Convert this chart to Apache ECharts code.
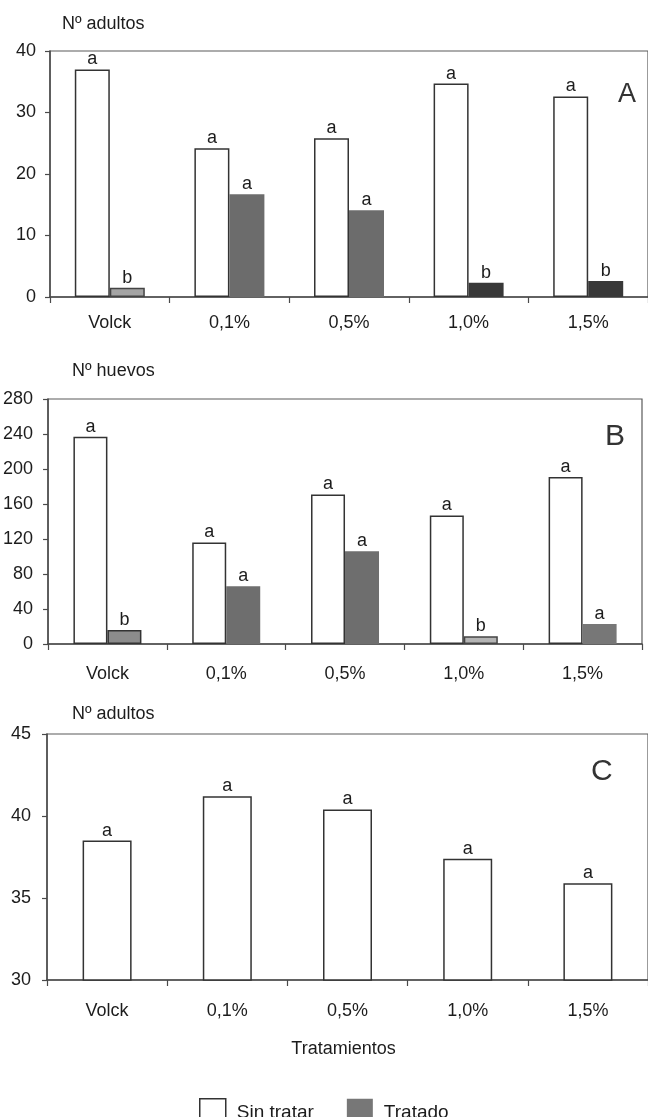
<!DOCTYPE html>
<html>
<head>
<meta charset="utf-8">
<script src="https://cdn.jsdelivr.net/npm/echarts@6/dist/echarts.min.js"></script>
<style>
html,body{margin:0;padding:0;background:#fff;}
#chart{width:648px;height:1117px;}
</style>
</head>
<body>
<div id="chart"></div>
<script>
// ---- data ----
var categories = ['Volck', '0,1%', '0,5%', '1,0%', '1,5%'];
var seriesNames = ['Sin tratar', 'Tratado'];

var adultosA_sin = [37, 24.2, 25.8, 34.7, 32.6];
var adultosA_trat = [1.5, 16.7, 14.1, 2.3, 2.6];
var lettersA_sin = ['a', 'a', 'a', 'a', 'a'];
var lettersA_trat = ['b', 'a', 'a', 'b', 'b'];

var huevosB_sin = [237, 116, 171, 147, 191];
var huevosB_trat = [16, 66, 106, 9, 23];
var lettersB_sin = ['a', 'a', 'a', 'a', 'a'];
var lettersB_trat = ['b', 'a', 'a', 'b', 'a'];

var adultosC_sin = [38.5, 41.2, 40.4, 37.4, 35.9];
var lettersC_sin = ['a', 'a', 'a', 'a', 'a'];

var ticksA = [0, 10, 20, 30, 40];
var ticksB = [0, 40, 80, 120, 160, 200, 240, 280];
var ticksC = [30, 35, 40, 45];

// ---- styles ----
var FONT = '"Liberation Sans", Arial, Helvetica, sans-serif';
var INK = '#1c1c1c';
var AXIS = '#4a4a4a';
var fillA = ['#a4a4a4', '#6c6c6c', '#6c6c6c', '#383838', '#383838'];
var edgeA = ['#444', null, null, null, null];
var fillB = ['#8c8c8c', '#6e6e6e', '#6e6e6e', '#b4b4b4', '#777777'];
var edgeB = ['#333', null, null, '#444', null];

var chart = echarts.init(document.getElementById('chart'), null, {renderer: 'canvas'});

function treatedData(vals, fills, edges) {
  return vals.map(function (v, i) {
    var st = {color: fills[i]};
    if (edges[i]) { st.borderColor = edges[i]; st.borderWidth = 1.5; }
    else { st.borderWidth = 0; }
    return {value: v, itemStyle: st};
  });
}
function letterLabel(letters) {
  return {
    show: true, position: 'top', distance: 1,
    fontFamily: FONT, fontSize: 18, color: INK,
    formatter: function (p) { return letters[p.dataIndex]; }
  };
}
function xAxisFor(idx, margin, extra) {
  var ax = {
    type: 'category', gridIndex: idx, data: categories,
    axisLine: {lineStyle: {color: AXIS, width: 1.5}},
    axisTick: {show: true, length: 6, lineStyle: {color: AXIS, width: 1.2}},
    axisLabel: {fontFamily: FONT, fontSize: 18, color: INK, margin: margin}
  };
  if (extra) for (var k in extra) ax[k] = extra[k];
  return ax;
}
function yAxisFor(idx, ticks, name, nameGap, namePad, margin) {
  return {
    type: 'value', gridIndex: idx,
    min: ticks[0], max: ticks[ticks.length - 1], interval: ticks[1] - ticks[0],
    name: name, nameLocation: 'end', nameGap: nameGap,
    nameTextStyle: {fontFamily: FONT, fontSize: 18, color: INK, align: 'left', padding: [0, 0, 0, namePad]},
    axisLine: {show: true, lineStyle: {color: AXIS, width: 1.5}},
    axisTick: {show: true, length: 5, lineStyle: {color: AXIS, width: 1.2}},
    axisLabel: {fontFamily: FONT, fontSize: 18, color: INK, margin: margin},
    splitLine: {show: false}
  };
}
var gridStyle = {show: true, borderColor: '#5a5a5a', borderWidth: 1.2, backgroundColor: 'transparent'};
function gridAt(left, top, width, height) {
  var g = {left: left, top: top, width: width, height: height, containLabel: false};
  for (var k in gridStyle) g[k] = gridStyle[k];
  return g;
}
var whiteStyle = {color: '#ffffff', borderColor: '#333333', borderWidth: 1.5};

var option = {
  animation: false,
  backgroundColor: '#ffffff',
  textStyle: {fontFamily: FONT},
  grid: [
    gridAt(50, 51, 605, 246),
    gridAt(48, 399, 594, 245),
    gridAt(47, 734, 603, 246)
  ],
  xAxis: [
    xAxisFor(0, 17),
    xAxisFor(1, 21),
    xAxisFor(2, 22, {
      name: 'Tratamientos', nameLocation: 'middle', nameGap: 60,
      nameTextStyle: {fontFamily: FONT, fontSize: 18, color: INK, padding: [0, 8, 0, 0]}
    })
  ],
  yAxis: [
    yAxisFor(0, ticksA, 'Nº adultos', 18, 12, 14),
    yAxisFor(1, ticksB, 'Nº huevos', 19, 24, 15),
    yAxisFor(2, ticksC, 'Nº adultos', 11, 25, 16)
  ],
  legend: {
    left: 194, top: 1093, itemWidth: 26, itemHeight: 28, itemGap: 33,
    icon: 'rect',
    textStyle: {fontFamily: FONT, fontSize: 19, color: INK, padding: [0, 0, 0, 6]},
    data: [
      {name: seriesNames[0], itemStyle: {color: '#ffffff', borderColor: '#333', borderWidth: 1.5}},
      {name: seriesNames[1], itemStyle: {color: '#777777', borderWidth: 0}}
    ]
  },
  graphic: [
    {type: 'text', left: 618, top: 81, style: {text: 'A', font: '27px ' + FONT, fill: '#333'}},
    {type: 'text', left: 605, top: 422, style: {text: 'B', font: '30px ' + FONT, fill: '#333'}},
    {type: 'text', left: 591, top: 757, style: {text: 'C', font: '30px ' + FONT, fill: '#333'}}
  ],
  series: [
    {name: seriesNames[0], type: 'bar', xAxisIndex: 0, yAxisIndex: 0, data: adultosA_sin,
     barWidth: 35, barGap: '0%', itemStyle: whiteStyle, label: letterLabel(lettersA_sin)},
    {name: seriesNames[1], type: 'bar', xAxisIndex: 0, yAxisIndex: 0,
     data: treatedData(adultosA_trat, fillA, edgeA),
     barWidth: 35, barGap: '0%', itemStyle: {color: '#777777'}, label: letterLabel(lettersA_trat)},
    {name: seriesNames[0], type: 'bar', xAxisIndex: 1, yAxisIndex: 1, data: huevosB_sin,
     barWidth: 34, barGap: '0%', itemStyle: whiteStyle, label: letterLabel(lettersB_sin)},
    {name: seriesNames[1], type: 'bar', xAxisIndex: 1, yAxisIndex: 1,
     data: treatedData(huevosB_trat, fillB, edgeB),
     barWidth: 34, barGap: '0%', itemStyle: {color: '#777777'}, label: letterLabel(lettersB_trat)},
    {name: seriesNames[0], type: 'bar', xAxisIndex: 2, yAxisIndex: 2, data: adultosC_sin,
     barWidth: 49, itemStyle: whiteStyle, label: letterLabel(lettersC_sin)}
  ]
};
chart.setOption(option);
</script>
</body>
</html>
